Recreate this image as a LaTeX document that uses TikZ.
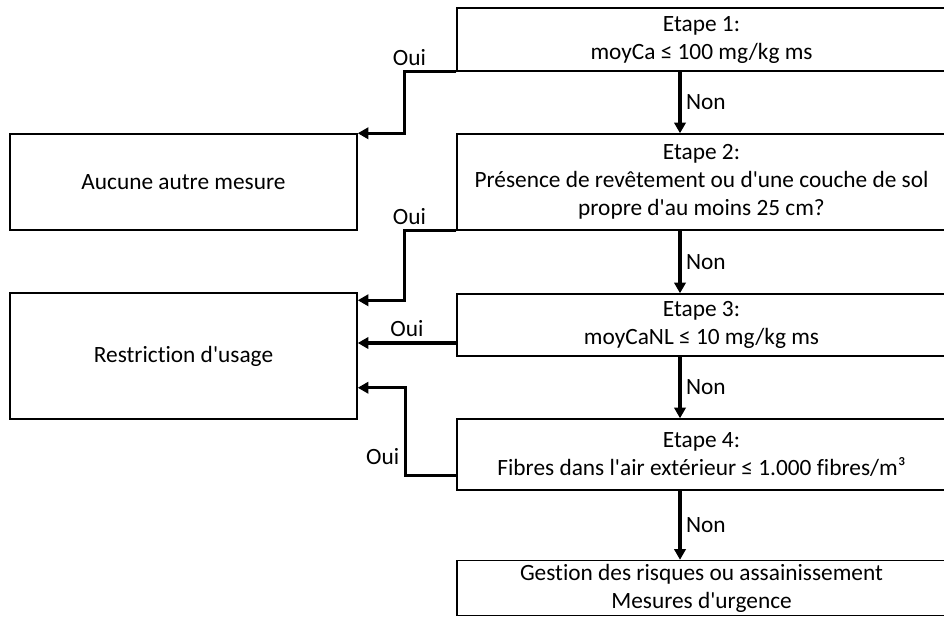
\documentclass[tikz,border=0pt]{standalone}
\usepackage{fontspec}
\setmainfont{Carlito}[Ligatures={NoCommon,TeX}]
\usetikzlibrary{arrows.meta,calc,positioning}
\newcommand{\ap}{\textquotesingle}

\begin{document}
\begin{tikzpicture}[x=0.75pt,y=-0.75pt,
  font=\fontsize{17.5}{21}\selectfont,
  stepbox/.style={draw,line width=1.1pt,align=center,inner sep=0pt,minimum width=366.75pt},
  endbox/.style={draw,line width=1.1pt,align=center,inner sep=0pt,minimum width=260.25pt},
  flow/.style={line width=2.4pt,-{Triangle[length=8pt,width=8.5pt]}}]
\useasboundingbox (0,0) rectangle (944,617);
% etapes (colonne de droite)
\node[stepbox,minimum height=47.25pt] (e1) at (701.5,39.5) {Etape 1:\\moyCa ≤ 100 mg/kg ms};
\node[stepbox,minimum height=72pt] (e2) at (701.5,182) {Etape 2:\\Présence de revêtement ou d\ap une couche de sol\\propre d\ap au moins 25 cm?};
\node[stepbox,minimum height=46.5pt] (e3) at (701.5,325) {Etape 3:\\moyCaNL ≤ 10 mg/kg ms};
\node[stepbox,minimum height=53.25pt] (e4) at (701.5,454.5) {Etape 4:\\Fibres dans l\ap air extérieur ≤ 1.000 fibres/m³};
\node[stepbox,minimum height=41.25pt] (e5) at (701.5,588) {Gestion des risques ou assainissement\\Mesures d\ap urgence};
% resultats (colonne de gauche)
\node[endbox,minimum height=72pt] (aucune) at (183.5,182) {Aucune autre mesure};
\node[endbox,minimum height=94.5pt] (restr) at (183.5,356) {Restriction d\ap usage};
% Non
\coordinate (nc) at (680,0);
\draw[flow] (e1.south -| nc) -- node[right]{Non} (e2.north -| nc);
\draw[flow] (e2.south -| nc) -- node[right]{Non} (e3.north -| nc);
\draw[flow] (e3.south -| nc) -- node[right]{Non} (e4.north -| nc);
\draw[flow] (e4.south -| nc) -- node[right]{Non} (e5.north -| nc);
% Oui
\coordinate (o3) at ([yshift=-13.5pt]e3.west);
\coordinate (o4) at ([yshift=-16pt]e4.west);
\draw[flow] (e1.south west) -- node[above,pos=0.9]{Oui} ++(-52,0) |- (aucune.north east);
\draw[flow] (e2.south west) -- node[above,pos=0.9]{Oui} ++(-52,0) |- ([yshift=-6pt]restr.north east);
\draw[flow] (o3) -- node[above]{Oui} (o3 -| restr.east);
\draw[flow] (o4) -- ++(-51,0) |- node[left,pos=0.11]{Oui} ([yshift=24pt]restr.south east);
\end{tikzpicture}
\end{document}
